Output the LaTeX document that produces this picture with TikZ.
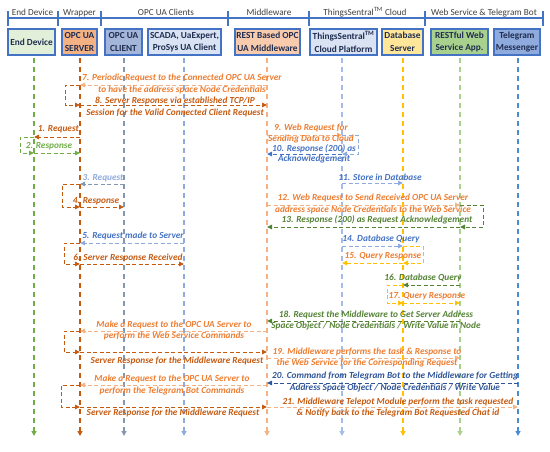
\documentclass[tikz,border=0pt]{standalone}
\usepackage{fontspec}
\setmainfont{Carlito}
\usetikzlibrary{arrows.meta}
\definecolor{lorange}{HTML}{F4B183}
\definecolor{dorange}{HTML}{C55A11}
\definecolor{morange}{HTML}{ED7D31}
\definecolor{grn}{HTML}{70AD47}
\definecolor{dgrn}{HTML}{548235}
\definecolor{lgrn}{HTML}{A9D18E}
\definecolor{blu}{HTML}{4472C4}
\definecolor{dblu}{HTML}{2F5597}
\definecolor{lblu}{HTML}{8FAADC}
\definecolor{llblu}{HTML}{A5BDE6}
\definecolor{slate}{HTML}{8497B0}
\definecolor{yel}{HTML}{FFC000}
\definecolor{tgblu}{HTML}{4A8BD6}
\definecolor{hdrgray}{HTML}{404040}
\definecolor{boxtxt}{HTML}{1F2D50}
\definecolor{fEnd}{HTML}{E2F0D9}
\definecolor{fSrv}{HTML}{F4B183}
\definecolor{fCli}{HTML}{A3B5D9}
\definecolor{fSca}{HTML}{DAE3F3}
\definecolor{fMid}{HTML}{F8CBAD}
\definecolor{fTs}{HTML}{DAE3F3}
\definecolor{fDb}{HTML}{FFE699}
\definecolor{fRf}{HTML}{A9D18E}
\definecolor{fTg}{HTML}{8FAADC}
\newcommand\msgfont{\bfseries\itshape\fontsize{9.3}{12}\selectfont}
\newcommand\hdrfont{\fontsize{9.2}{10}\selectfont}
\newcommand\boxfont{\bfseries\fontsize{9.3}{12.5}\selectfont}
\begin{document}
\begin{tikzpicture}[x=1pt,y=-1pt,
  hdr/.style={draw=blu, line width=1.1pt},
  grp/.style={font=\hdrfont, text=hdrgray, anchor=base, inner sep=0pt},
  actor/.style={draw=blu, line width=1.6pt, minimum height=26pt, align=center, font=\boxfont, text=boxtxt, inner sep=0.5pt},
  life/.style={line width=1.3pt, dash pattern=on 4.5pt off 4.5pt, -{Triangle[length=5pt,width=5pt]}},
  msg/.style={line width=1pt, dash pattern=on 4pt off 2.5pt, -{Triangle[length=5pt,width=4.5pt]}},
  loopln/.style={line width=1pt, dash pattern=on 4pt off 2.5pt},
  lbl/.style={font=\msgfont, align=center, inner sep=0pt}]
\useasboundingbox (0,0) rectangle (550,451);
% ---------- header ----------
\coordinate (h0) at (8,18);
\coordinate (h1) at (58,18);
\coordinate (h2) at (101,18);
\coordinate (h3) at (228,18);
\coordinate (h4) at (309,18);
\coordinate (h5) at (425,18);
\coordinate (h6) at (543,18);
\draw[hdr] (h0) -- (h6);
\foreach \h in {h0,h1,h2,h3,h4,h5,h6}
  \draw[hdr] ([yshift=-7.5pt]\h) -- ([yshift=7.5pt]\h);
\node[grp] (gEnd) at (32.5,15.5) {End Device};
\node[grp] (gWrap) at (79.5,15.5) {Wrapper};
\node[grp] (gCli) at (166,15.5) {OPC UA Clients};
\node[grp] (gMid) at (269,15.5) {Middleware};
\node[grp] (gTs) at (365,15.5) {ThingsSentral\textsuperscript{TM} Cloud};
\node[grp] (gWeb) at (484,15.5) {Web Service \& Telegram Bot};
% ---------- actors ----------
\node[actor, fill=fEnd, minimum width=47pt] (bEnd) at (31.5,42) {End Device};
\node[actor, fill=fSrv, minimum width=35pt] (bSrv) at (79.5,42) {OPC UA\\SERVER};
\node[actor, fill=fCli, minimum width=37pt] (bCli) at (123.5,42) {OPC UA\\CLIENT};
\node[actor, fill=fSca, minimum width=73pt] (bSca) at (184.5,42) {SCADA, UaExpert,\\ProSys UA Client};
\node[actor, fill=fMid, minimum width=65pt] (bMid) at (267.5,42) {REST Based OPC\\UA Middleware};
\node[actor, fill=fTs, minimum width=67pt] (bTs) at (343.5,42) {ThingsSentral\textsuperscript{TM}\\Cloud Platform};
\node[actor, fill=fDb, minimum width=41pt] (bDb) at (402.5,42) {Database\\Server};
\node[actor, fill=fRf, minimum width=57pt] (bRf) at (459.5,42) {RESTful Web\\Service App.};
\node[actor, fill=fTg, minimum width=46pt] (bTg) at (517,42) {Telegram\\Messenger};
% ---------- lifelines ----------
\coordinate (Lend) at (34,58);
\coordinate (Lsrv) at (80,58);
\coordinate (Lcli) at (124,58);
\coordinate (Lsca) at (184,58);
\coordinate (Lmid) at (267,58);
\coordinate (Lts) at (342,58);
\coordinate (Ldb) at (403,58);
\coordinate (Lrf) at (460,58);
\coordinate (Ltg) at (518,58);
\coordinate (bot) at (0,436);
\draw[life, grn] (Lend) -- (Lend |- bot);
\draw[life, dorange] (Lsrv) -- (Lsrv |- bot);
\draw[life, slate] (Lcli) -- (Lcli |- bot);
\draw[life, lblu] (Lsca) -- (Lsca |- bot);
\draw[life, lorange] (Lmid) -- (Lmid |- bot);
\draw[life, llblu] (Lts) -- (Lts |- bot);
\draw[life, yel] (Ldb) -- (Ldb |- bot);
\draw[life, lgrn] (Lrf) -- (Lrf |- bot);
\draw[life, tgblu] (Ltg) -- (Ltg |- bot);
% ---------- rows ----------
\coordinate (r7) at (0,85);  \coordinate (r8) at (0,105);
\coordinate (r1) at (0,137); \coordinate (r2) at (0,153);
\coordinate (r9) at (0,135); \coordinate (r10) at (0,154);
\coordinate (r11) at (0,183);
\coordinate (r12) at (0,205); \coordinate (r13) at (0,227);
\coordinate (r3) at (0,184); \coordinate (r4) at (0,207);
\coordinate (r5) at (0,243); \coordinate (r6) at (0,264);
\coordinate (r14) at (0,246); \coordinate (r15) at (0,263);
\coordinate (r16) at (0,285); \coordinate (r17) at (0,303);
\coordinate (r18) at (0,321);
\coordinate (rA) at (0,331); \coordinate (rB) at (0,352);
\coordinate (r19) at (0,358);
\coordinate (r20) at (0,383);
\coordinate (rC) at (0,385); \coordinate (rD) at (0,407);
\coordinate (r21) at (0,407);
% loop x positions
\coordinate (x8) at (65,0);
\coordinate (x2) at (20,0);
\coordinate (x10) at (358,0);
\coordinate (x13) at (483,0);
\coordinate (x4) at (62,0);
\coordinate (x6) at (64,0);
\coordinate (x15) at (423,0);
\coordinate (x17) at (387,0);
\coordinate (xB) at (64,0);
\coordinate (xD) at (61,0);
% ---------- messages ----------
% 7 / 8
\draw[msg, lorange] (Lmid |- r7) -- (Lsrv |- r7);
\draw[loopln, dorange, -{Triangle[length=5pt,width=4.5pt]}] (Lsrv |- r7) -- (x8 |- r7) -- (x8 |- r8) -- (Lsrv |- r8);
\draw[msg, dorange] (Lsrv |- r8) -- (Lmid |- r8);
\node[lbl, text=morange] (t7) at (182,84) {7. Periodic Request to the Connected OPC UA Server\\to have the address space Node Credentials};
\node[lbl, text=dorange] (t8) at (175,107) {8. Server Response via established TCP/IP\\Session for the Valid Connected Client Request};
% 1 / 2
\draw[msg, dorange] (Lsrv |- r1) -- (Lend |- r1);
\draw[loopln, grn, -{Triangle[length=5pt,width=4.5pt]}] (Lend |- r1) -- (x2 |- r1) -- (x2 |- r2) -- (Lend |- r2);
\draw[msg, grn] (Lend |- r2) -- (Lsrv |- r2);
\node[lbl, text=dorange, anchor=east] (t1) at (79,129) {1. Request};
\node[lbl, text=grn] (t2) at (49,146) {2. Response};
% 9 / 10
\draw[msg, lorange] (Lmid |- r9) -- (Lts |- r9);
\draw[loopln, lblu, -{Triangle[length=5pt,width=4.5pt]}] (Lts |- r9) -- (x10 |- r9) -- (x10 |- r10) -- (Lts |- r10);
\draw[msg, blu] (Lts |- r10) -- (Lmid |- r10);
\node[lbl, text=morange, font=\bfseries\itshape\fontsize{9.3}{11}\selectfont] (t9) at (311,133.5) {9. Web Request for\\Sending Data to Cloud};
\node[lbl, text=blu, font=\bfseries\itshape\fontsize{9.3}{10.5}\selectfont] (t10) at (314,154) {10. Response (200) as\\Acknowledgement};
% 11
\draw[msg, lblu] (Lts |- r11) -- (Ldb |- r11);
\node[lbl, text=blu] (t11) at (380,177) {11. Store in Database};
% 12 / 13
\draw[msg, lorange] (Lmid |- r12) -- (Lrf |- r12);
\draw[loopln, dgrn, -{Triangle[length=5pt,width=4.5pt]}] (Lrf |- r12) -- (x13 |- r12) -- (x13 |- r13) -- (Lrf |- r13);
\draw[msg, dgrn] (Lrf |- r13) -- (Lmid |- r13);
\node[lbl, text=morange] (t12) at (373,204) {12. Web Request to Send Received OPC UA Server\\address space Node Credentials to the Web Service};
\node[lbl, text=dgrn] (t13) at (377,220) {13. Response (200) as Request Acknowledgement};
% 3 / 4
\draw[msg, slate] (Lcli |- r3) -- (Lsrv |- r3);
\draw[loopln, dorange, -{Triangle[length=5pt,width=4.5pt]}] (Lsrv |- r3) -- (x4 |- r3) -- (x4 |- r4) -- (Lsrv |- r4);
\draw[msg, dorange] (Lsrv |- r4) -- (Lcli |- r4);
\node[lbl, text=lblu] (t3) at (103,178) {3. Request};
\node[lbl, text=dorange] (t4) at (96,201) {4. Response};
% 5 / 6
\draw[msg, lblu] (Lsca |- r5) -- (Lsrv |- r5);
\draw[loopln, dorange, -{Triangle[length=5pt,width=4.5pt]}] (Lsrv |- r5) -- (x6 |- r5) -- (x6 |- r6) -- (Lsrv |- r6);
\draw[msg, dorange] (Lsrv |- r6) -- (Lsca |- r6);
\node[lbl, text=blu] (t5) at (133,236) {5. Request made to Server};
\node[lbl, text=dorange] (t6) at (128,258) {6. Server Response Received};
% 14 / 15
\draw[msg, lblu] (Lts |- r14) -- (Ldb |- r14);
\draw[loopln, yel, -{Triangle[length=5pt,width=4.5pt]}] (Ldb |- r14) -- (x15 |- r14) -- (x15 |- r15) -- (Ldb |- r15);
\draw[msg, yel] (Ldb |- r15) -- (Lts |- r15);
\node[lbl, text=blu] (t14) at (381,239) {14. Database Query};
\node[lbl, text=morange] (t15) at (383,256) {15. Query Response};
% 16 / 17
\draw[msg, dgrn] (Lrf |- r16) -- (Ldb |- r16);
\draw[loopln, yel, -{Triangle[length=5pt,width=4.5pt]}] (Ldb |- r16) -- (x17 |- r16) -- (x17 |- r17) -- (Ldb |- r17);
\draw[msg, yel] (Ldb |- r17) -- (Lrf |- r17);
\node[lbl, text=dgrn] (t16) at (423,278) {16. Database Query};
\node[lbl, text=morange] (t17) at (427,296) {17. Query Response};
% 18
\draw[msg, dgrn] (Lrf |- r18) -- (Lmid |- r18);
\node[lbl, text=dgrn, font=\bfseries\itshape\fontsize{9.3}{11}\selectfont] (t18) at (376,320.5) {18. Request the Middleware to Get Server Address\\Space Object / Node Credentials / Write Value in Node};
% web service command to server
\draw[msg, lorange] (Lmid |- rA) -- (Lsrv |- rA);
\draw[loopln, dorange, -{Triangle[length=5pt,width=4.5pt]}] (Lsrv |- rA) -- (xB |- rA) -- (xB |- rB) -- (Lsrv |- rB);
\draw[msg, dorange] (Lsrv |- rB) -- (Lmid |- rB);
\node[lbl, text=morange, font=\bfseries\itshape\fontsize{9.3}{11}\selectfont] (tA) at (174,330.5) {Make a Request to the OPC UA Server to\\perform the Web Service Commands};
\node[lbl, text=dorange] (tB) at (177,361) {Server Response for the Middleware Request};
% 19
\draw[msg, lorange] (Lmid |- r19) -- (Lrf |- r19);
\node[lbl, text=morange, font=\bfseries\itshape\fontsize{9.3}{11}\selectfont] (t19) at (367,357.5) {19. Middleware performs the task \& Response to\\the Web Service for the Corresponding Request};
% 20
\draw[msg, dblu] (Ltg |- r20) -- (Lmid |- r20);
\node[lbl, text=dblu] (t20) at (395,382) {20. Command from Telegram Bot to the Middleware for Getting\\Address Space Object / Node Credentials / Write Value};
% telegram command to server
\draw[msg, lorange] (Lmid |- rC) -- (Lsrv |- rC);
\draw[loopln, dorange, -{Triangle[length=5pt,width=4.5pt]}] (Lsrv |- rC) -- (xD |- rC) -- (xD |- rD) -- (Lsrv |- rD);
\draw[msg, dorange] (Lsrv |- rD) -- (Lmid |- rD);
\node[lbl, text=morange] (tC) at (172,385) {Make a Request to the OPC UA Server to\\perform the Telegram Bot Commands};
\node[lbl, text=dorange] (tD) at (173,413) {Server Response for the Middleware Request};
% 21
\draw[msg, lorange] (Lmid |- r21) -- (Ltg |- r21);
\node[lbl, text=dorange, font=\bfseries\itshape\fontsize{9.3}{11}\selectfont] (t21) at (398,407.5) {21. Middleware Telepot Module perform the task requested\\\& Notify back to the Telegram Bot Requested Chat id};
\end{tikzpicture}
\end{document}
